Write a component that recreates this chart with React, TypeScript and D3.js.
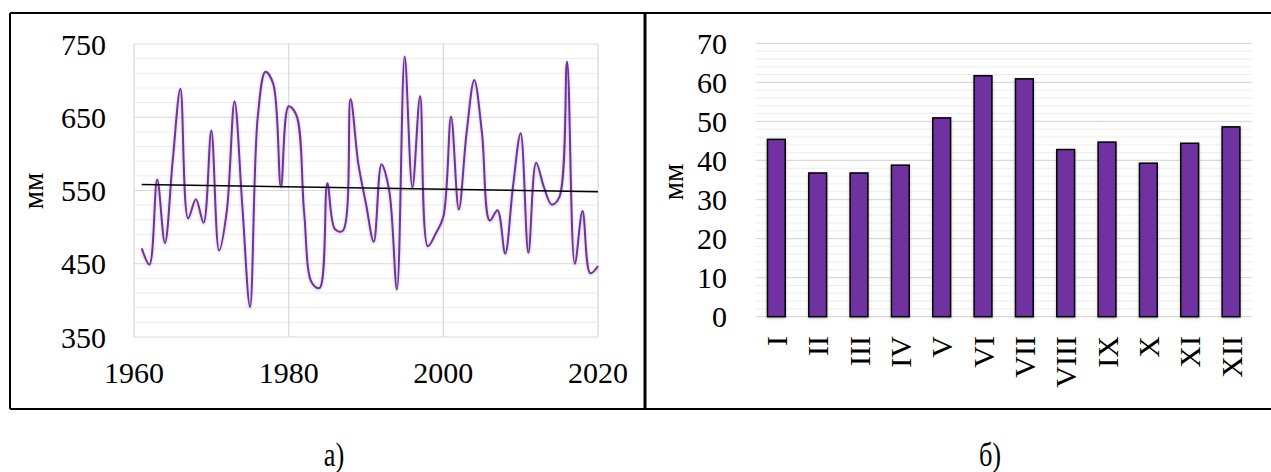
import React from "react";
import * as d3 from "d3";

// annual precipitation, mm (panel a)
const years = d3.range(1961, 2021);
const annual = [
  471, 449, 565, 478, 590, 689, 512, 538, 506, 632,
  468, 522, 672, 530, 391, 650, 712, 696, 555, 665,
  653, 520, 424, 417, 560, 497, 495, 675, 587, 532,
  480, 586, 550, 415, 733, 554, 679, 474, 491, 514,
  651, 524, 628, 701, 628, 509, 523, 464, 555, 628,
  465, 588, 555, 531, 541, 726, 450, 522, 437, 447,
];
const yTicksA = [350, 450, 550, 650, 750];
const xTicksA = [1960, 1980, 2000, 2020];

// monthly mean, mm (panel b)
const months = ["I", "II", "III", "IV", "V", "VI", "VII", "VIII", "IX", "X", "XI", "XII"];
const monthly = [45.4, 36.8, 36.8, 38.8, 50.9, 61.7, 60.9, 42.8, 44.7, 39.3, 44.4, 48.6];
const yTicksB = [0, 10, 20, 30, 40, 50, 60, 70];

const PURPLE = "#7030a0";
const FONT = "Liberation Serif, DejaVu Serif, serif";
const txt = { fontFamily: FONT, fill: "#000" };

function PanelA() {
  const x = d3.scaleLinear().domain([1960, 2020]).range([134, 598]);
  const y = d3.scaleLinear().domain([350, 750]).range([337, 44]);

  // linear trend
  const mx = d3.mean(years) as number;
  const my = d3.mean(annual) as number;
  let sxy = 0, sxx = 0;
  years.forEach((yr, i) => { sxy += (yr - mx) * (annual[i] - my); sxx += (yr - mx) * (yr - mx); });
  const k = sxy / sxx;
  const trend = (yr: number) => my + k * (yr - mx);

  const line = d3.line<number>()
    .x((_, i) => x(years[i]))
    .y(d => y(d))
    .curve(d3.curveCatmullRom.alpha(0.5));

  const minor = d3.range(370, 750, 20).filter(v => v % 100 !== 50);

  return (
    <g>
      {minor.map(v => (
        <line key={"m" + v} x1={x(1960)} x2={x(2020)} y1={y(v)} y2={y(v)} stroke="#ececec" strokeWidth={1} />
      ))}
      {yTicksA.map(v => (
        <line key={"g" + v} x1={x(1960)} x2={x(2020)} y1={y(v)} y2={y(v)} stroke="#d9d9d9" strokeWidth={1.2} />
      ))}
      {xTicksA.map(v => (
        <line key={"v" + v} x1={x(v)} x2={x(v)} y1={y(350)} y2={y(750)} stroke="#d9d9d9" strokeWidth={1.2} />
      ))}
      <path d={line(annual) || ""} fill="none" stroke={PURPLE} strokeWidth={2} filter="url(#shadow)" />
      <line x1={x(1961)} x2={x(2020)} y1={y(trend(1961))} y2={y(trend(2020))} stroke="#000" strokeWidth={1.5} />
      {yTicksA.map(v => (
        <text key={"yl" + v} x={106} y={y(v)} dy="0.35em" textAnchor="end" fontSize={30} style={txt}>{v}</text>
      ))}
      {xTicksA.map(v => (
        <text key={"xl" + v} x={x(v)} y={383} textAnchor="middle" fontSize={30} style={txt}>{v}</text>
      ))}
      <text transform="translate(43,191) rotate(-90)" textAnchor="middle" fontSize={29} style={txt}>мм</text>
    </g>
  );
}

function PanelB() {
  const x = d3.scaleBand<string>().domain(months).range([755.7, 1251.7]).paddingInner(0.57).paddingOuter(0.285);
  const y = d3.scaleLinear().domain([0, 70]).range([316.7, 43.3]);
  const minor = d3.range(2, 70, 2).filter(v => v % 10 !== 0);

  return (
    <g>
      {minor.map(v => (
        <line key={"m" + v} x1={755.7} x2={1251.7} y1={y(v)} y2={y(v)} stroke="#ededed" strokeWidth={1} />
      ))}
      {yTicksB.map(v => (
        <line key={"g" + v} x1={755.7} x2={1251.7} y1={y(v)} y2={y(v)} stroke="#d9d9d9" strokeWidth={1.3} />
      ))}
      {months.map((m, i) => (
        <rect key={m} x={x(m)} y={y(monthly[i])} width={x.bandwidth()} height={y(0) - y(monthly[i])}
          fill={PURPLE} stroke="#000" strokeWidth={1.5} filter="url(#shadow)" />
      ))}
      {yTicksB.map(v => (
        <text key={"yl" + v} x={727} y={y(v)} dy="0.35em" textAnchor="end" fontSize={30} style={txt}>{v}</text>
      ))}
      {months.map(m => (
        <text key={"xl" + m} transform={`translate(${(x(m) as number) + x.bandwidth() / 2},336) rotate(-90)`}
          dy="0.35em" textAnchor="end" fontSize={30} style={txt}>{m}</text>
      ))}
      <text transform="translate(683,182) rotate(-90)" textAnchor="middle" fontSize={29} style={txt}>мм</text>
    </g>
  );
}

export default function App() {
  return (
    <svg width={1271} height={472} style={{ position: "absolute", left: 0, top: 0, background: "#fff" }}>
      <defs>
        <filter id="shadow" x="-20%" y="-20%" width="140%" height="140%">
          <feDropShadow dx="0" dy="1" stdDeviation="1.5" floodColor="#000" floodOpacity="0.25" />
        </filter>
      </defs>
      <rect x={0} y={0} width={1271} height={472} fill="#fff" />
      <PanelA />
      <PanelB />
      <line x1={10} x2={1271} y1={13} y2={13} stroke="#000" strokeWidth={2} />
      <line x1={10} x2={1271} y1={409} y2={409} stroke="#000" strokeWidth={2} />
      <line x1={10} x2={10} y1={13} y2={409} stroke="#000" strokeWidth={2} />
      <line x1={645} x2={645} y1={13} y2={409} stroke="#000" strokeWidth={3} />
      <text transform="translate(334,466) scale(0.8,1)" textAnchor="middle" fontSize={33} style={txt}>а)</text>
      <text transform="translate(990,466) scale(0.8,1)" textAnchor="middle" fontSize={33} style={txt}>б)</text>
    </svg>
  );
}
